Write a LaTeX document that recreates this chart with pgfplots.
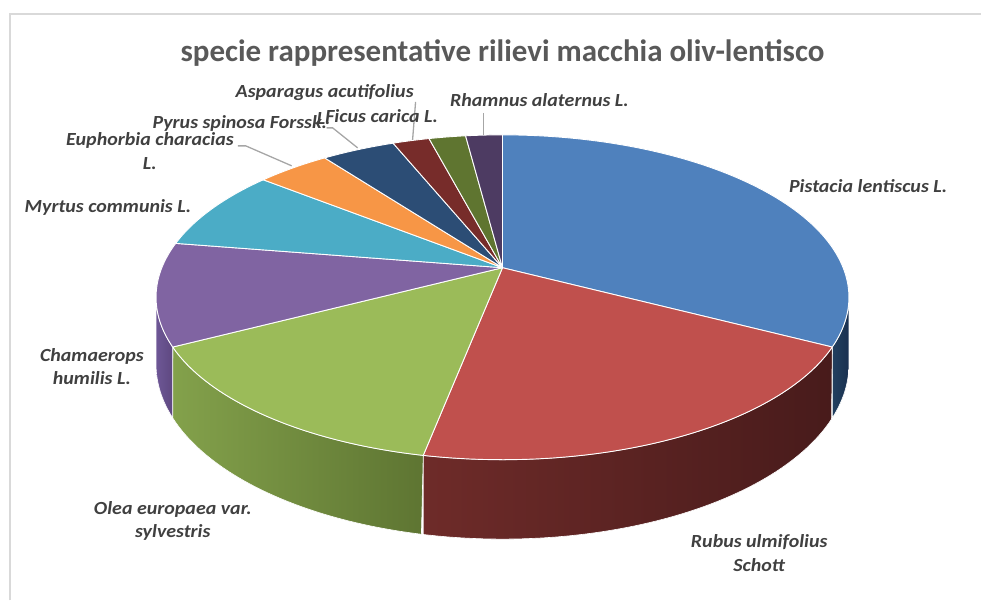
\documentclass[border=0pt]{standalone}
\usepackage{pgfplots}
\pgfplotsset{compat=1.18}
\usepackage{pgfplotstable}
\usepackage{fontspec}
\setmainfont{Carlito}

\definecolor{pA}{HTML}{4F81BD}
\definecolor{pB}{HTML}{C0504D}
\definecolor{pC}{HTML}{9BBB59}
\definecolor{pD}{HTML}{8064A2}
\definecolor{pE}{HTML}{4BACC6}
\definecolor{pF}{HTML}{F79646}
\definecolor{pG}{HTML}{2C4D75}
\definecolor{pH}{HTML}{772C2A}
\definecolor{pI}{HTML}{5F7530}
\definecolor{pJ}{HTML}{4D3B62}
\definecolor{sAl}{HTML}{22405F}
\definecolor{sAr}{HTML}{1A3050}
\definecolor{sBl}{HTML}{6E2B29}
\definecolor{sBr}{HTML}{481B1B}
\definecolor{sCl}{HTML}{83A14B}
\definecolor{sCr}{HTML}{5E7532}
\definecolor{sDl}{HTML}{6E5796}
\definecolor{sDr}{HTML}{5E4880}
\definecolor{lbl}{HTML}{404040}
\definecolor{ttl}{HTML}{595959}
\definecolor{lead}{HTML}{A6A6A6}
\definecolor{frame}{HTML}{D9D9D9}

% slice values (counts)
\pgfplotstableread{
name value
Pistacia 16
Rubus 10
Olea 7
Chamaerops 5
Myrtus 4
Euphorbia 2
Pyrus 2
Ficus 1
Asparagus 1
Rhamnus 1
}\piedata

\def\total{0}
\pgfplotsforeachungrouped \i in {0,...,9}{%
  \pgfplotstablegetelem{\i}{value}\of\piedata
  \pgfmathsetmacro\total{\total+\pgfplotsretval}}
\def\cum{0}
\pgfplotsforeachungrouped \i in {0,...,9}{%
  \pgfplotstablegetelem{\i}{value}\of\piedata
  \pgfmathsetmacro\st{90-360*(\cum/\total)}%
  \pgfmathsetmacro\cum{\cum+\pgfplotsretval}%
  \pgfmathsetmacro\en{90-360*(\cum/\total)}%
  \expandafter\xdef\csname ps\i\endcsname{\st}%
  \expandafter\xdef\csname pe\i\endcsname{\en}}

\newcommand\pieslice[2]{%
  \edef\tmp{\noexpand\addplot[fill=#2, draw=white, line width=0.9pt, line join=round,
    domain=\csname pe#1\endcsname:\csname ps#1\endcsname, samples=120]
    ({PX(x)},{PY(x)}) -- (503,268) -- cycle;}%
  \tmp}
\newcommand\pieside[3]{%
  \pgfmathsetmacro\lo{max(\csname pe#1\endcsname,-169.5)}%
  \pgfmathsetmacro\hi{min(\csname ps#1\endcsname,-10.5)}%
  \edef\tmp{\noexpand\addplot[left color=#2, right color=#3, draw=white, line width=0.6pt,
    domain=0:2, samples=401]
    ({PX(PH(x,\lo,\hi))},{PY(PH(x,\lo,\hi))+(x>1)*65/(1+0.182*sin(PH(x,\lo,\hi)))}) -- cycle;}%
  \tmp}

\begin{document}
\begin{tikzpicture}
\begin{axis}[
  width=982pt, height=601pt, scale only axis,
  xmin=0, xmax=982, ymin=0, ymax=601, y dir=reverse,
  hide axis, clip=false,
  declare function={
    PX(\t)=503+341*cos(\t)/(1+0.182*sin(\t));
    PY(\t)=268-341*0.461*sin(\t)/(1+0.182*sin(\t));
    PH(\t,\l,\h)=(\t<=1) ? (\l+\t*(\h-\l)) : (\h-(\t-1)*(\h-\l));
  },
]
\path (0,0) rectangle (982,601);
\draw[frame, line width=2pt] (10,601) -- (10,14) -- (982,14);

% sides
\pieside{0}{sAl}{sAr}
\pieside{1}{sBl}{sBr}
\pieside{2}{sCl}{sCr}
\pieside{3}{sDl}{sDr}

% top faces
\pieslice{0}{pA}
\pieslice{1}{pB}
\pieslice{2}{pC}
\pieslice{3}{pD}
\pieslice{4}{pE}
\pieslice{5}{pF}
\pieslice{6}{pG}
\pieslice{7}{pH}
\pieslice{8}{pI}
\pieslice{9}{pJ}

% leader lines
\draw[lead, line width=1.3pt] (238,146) -- (246,146) -- (292,166);
\draw[lead, line width=1.3pt] (327,128) -- (333,128) -- (358,148);
\draw[lead, line width=1.3pt] (416,102) -- (413,140);
\draw[lead, line width=1.3pt] (484,113) -- (484,135);

% title
\node[font=\bfseries\fontsize{31}{34}\selectfont, text=ttl, anchor=base, inner sep=0pt] at (503,62)
  {specie rappresentative rilievi macchia oliv-lentisco};

% labels
\tikzset{lab/.style={font=\bfseries\itshape\fontsize{18.5}{22}\selectfont, text=lbl, anchor=base, inner sep=0pt, xscale=1.08}}
\node[lab] at (869,193) {Pistacia lentiscus L.};
\node[lab] at (760,548) {Rubus ulmifolius};
\node[lab] at (760,572) {Schott};
\node[lab] at (173,515) {Olea europaea var.};
\node[lab] at (173,538) {sylvestris};
\node[lab] at (92,362) {Chamaerops};
\node[lab] at (92,385) {humilis L.};
\node[lab] at (108,213) {Myrtus communis L.};
\node[lab] at (150,146) {Euphorbia characias};
\node[lab] at (150,170) {L.};
\node[lab] at (240,129) {Pyrus spinosa Forssk.};
\node[lab] at (325,98) {Asparagus acutifolius};
\node[lab] at (324,125) {L.};
\node[lab] at (382,123) {Ficus carica L.};
\node[lab] at (540,107) {Rhamnus alaternus L.};
\end{axis}
\end{tikzpicture}
\end{document}
